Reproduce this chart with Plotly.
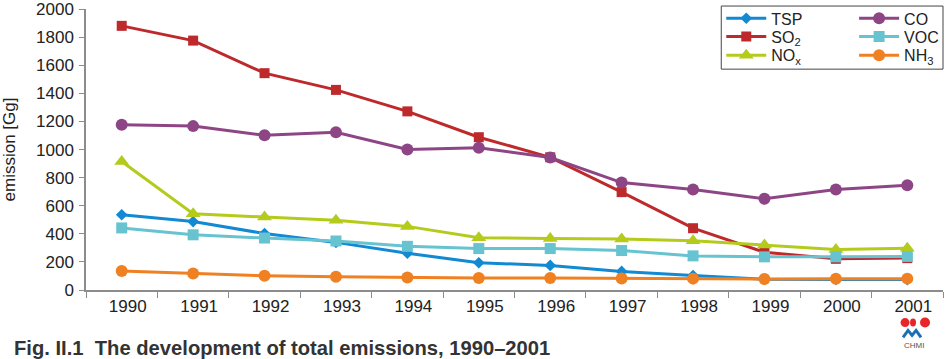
import plotly.graph_objects as go

years = ["1990", "1991", "1992", "1993", "1994", "1995", "1996", "1997", "1998", "1999", "2000", "2001"]
tsp = [536, 487, 402, 339, 262, 194, 175, 132, 103, 76, 75, 74]
so2 = [1881, 1776, 1544, 1425, 1272, 1088, 945, 697, 440, 269, 222, 227]
nox = [915, 543, 519, 496, 453, 372, 367, 364, 351, 321, 288, 297]
co = [1177, 1167, 1102, 1123, 1000, 1013, 943, 765, 716, 650, 716, 746]
voc = [442, 393, 370, 349, 311, 295, 295, 281, 243, 236, 236, 239]
nh3 = [136, 117, 101, 94, 89, 86, 86, 82, 81, 79, 80, 81]

W, H = 945, 359
ML, MR, MT, MB = 86, 1, 5, 69
PW, PH = W - ML - MR, H - MT - MB


def px(x):
    return (x - ML) / PW


def py(y):
    return (H - MB - y) / PH


# name, values, color, symbol, size, legend column x (px), legend row y (px)
series = [
    ("SO<sub>2</sub>", so2, "#be2a2c", "square", 10, 722, 33),
    ("TSP", tsp, "#1289d3", "diamond", 9, 722, 14.5),
    ("NO<sub>x</sub>", nox, "#b4cb1c", "triangle-up", 13, 722, 52),
    ("VOC", voc, "#67c3d0", "square", 11, 855, 33),
    ("CO", co, "#8e4586", "circle", 12, 855, 14.5),
    ("NH<sub>3</sub>", nh3, "#f08122", "circle", 12, 855, 52),
]

fig = go.Figure()
legends = {}
for i, (name, vals, color, sym, size, lx, ly) in enumerate(series):
    key = "legend" if i == 0 else f"legend{i + 1}"
    fig.add_trace(go.Scatter(
        x=years, y=vals, name=name, mode="lines+markers",
        line=dict(color=color, width=3),
        marker=dict(symbol=sym, size=size, color=color),
        legend=key,
    ))
    legends[key] = dict(
        x=px(lx), xanchor="left", y=py(ly), yanchor="middle",
        bgcolor="rgba(0,0,0,0)", borderwidth=0, itemwidth=40,
        font=dict(size=16, color="#222222"),
    )

axis_color = "#8c8c8c"
fig.update_layout(
    width=W, height=H,
    margin=dict(l=ML, r=MR, t=MT, b=MB),
    plot_bgcolor="white", paper_bgcolor="white",
    font=dict(family="Liberation Sans, Arial, sans-serif", color="#222222"),
    showlegend=True,
    xaxis=dict(
        type="category", showgrid=False, showline=True, linecolor=axis_color, linewidth=1.5,
        ticks="outside", tickson="boundaries", ticklen=6, tickcolor=axis_color,
        tickfont=dict(size=17, color="#222222"), ticklabelshift=6,
        range=[-0.5, 11.5], zeroline=False, automargin=False,
    ),
    yaxis=dict(
        range=[0, 2001], tickvals=list(range(0, 2001, 200)), showgrid=False, showline=True,
        linecolor=axis_color, linewidth=1.5, ticklabeloverflow="allow",
        ticks="outside", ticklen=5, tickcolor=axis_color, zeroline=False, automargin=False,
        tickfont=dict(size=17, color="#222222"), ticklabelstandoff=2,
        title=dict(text="emission [Gg]", font=dict(size=17, color="#222222"), standoff=17),
    ),
    **legends,
)

# legend frame
fig.add_shape(type="rect", xref="paper", yref="paper",
              x0=px(722), x1=px(944), y0=py(66), y1=py(2),
              fillcolor="white", line=dict(color="#444444", width=1), layer="above")

# caption
fig.add_annotation(
    text="<b>Fig. II.1  The development of total emissions, 1990–2001</b>",
    xref="paper", yref="paper", x=px(12), y=py(349), xanchor="left", yanchor="middle",
    showarrow=False, font=dict(size=20.2, color="#333333", family="Liberation Sans Narrow, Arial Narrow, sans-serif"),
)

# CHMI logo
for cx, r in [(906, 4.5), (926, 5)]:
    fig.add_shape(type="circle", xref="paper", yref="paper",
                  x0=px(cx - r), x1=px(cx + r), y0=py(323 + r), y1=py(323 - r),
                  fillcolor="#e8262a", line=dict(width=0))
fig.add_shape(type="circle", xref="paper", yref="paper",
              x0=px(911), x1=px(917), y0=py(327), y1=py(319),
              fillcolor="#e8262a", line=dict(width=0))
fig.add_shape(type="path", xref="paper", yref="paper",
              path=f"M {px(904)} {py(338)} L {px(909)} {py(331)} L {px(913)} {py(336)} L {px(917)} {py(331)} L {px(922)} {py(338)}",
              line=dict(color="#1b6fb6", width=3))
fig.add_annotation(text="CHMI", xref="paper", yref="paper", x=px(915), y=py(346),
                   xanchor="center", yanchor="middle",
                   showarrow=False, font=dict(size=8, color="#555555"))

fig.write_html("out.html", config={"displayModeBar": False},
               post_script="document.body.style.margin='0';")
